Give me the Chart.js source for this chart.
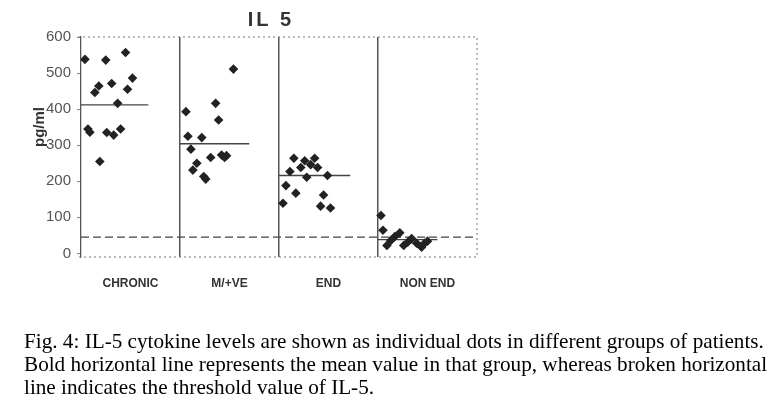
<!DOCTYPE html>
<html>
<head>
<meta charset="utf-8">
<script src="https://cdn.jsdelivr.net/npm/chart.js@4/dist/chart.umd.min.js"></script>
<style>
  body { margin: 0; background: #fff; }
  #wrap { position: relative; width: 777px; height: 412px; }
  #chart { position: absolute; left: 0; top: 0; }
  #caption {
    position: absolute; left: 24px; top: 330px; width: 753px;
    font-family: "Liberation Serif", "Times New Roman", serif;
    font-size: 21.2px; line-height: 23px; color: #000;
  }
</style>
</head>
<body>
<div id="wrap">
  <canvas id="chart" width="777" height="412"></canvas>
  <div id="caption">Fig. 4: IL-5 cytokine levels are shown as individual dots in different groups of patients. Bold horizontal line represents the mean value in that group, whereas broken horizontal line indicates the threshold value of IL-5.</div>
</div>
<script>
// groups and values
const groups = ['CHRONIC', 'M/+VE', 'END', 'NON END'];
const yTicks = [0, 100, 200, 300, 400, 500, 600];

const chronicVals = [538, 536, 557, 486, 455, 471, 464, 446, 416, 345, 336, 335, 328, 345, 255];
const chronicPos  = [0.04, 0.25, 0.45, 0.52, 0.47, 0.31, 0.18, 0.14, 0.37, 0.07, 0.09, 0.26, 0.33, 0.40, 0.19];

const mveVals = [511, 416, 393, 370, 325, 321, 289, 266, 273, 266, 271, 250, 231, 213, 206];
const mvePos  = [0.54, 0.36, 0.06, 0.39, 0.08, 0.22, 0.11, 0.31, 0.42, 0.45, 0.47, 0.17, 0.13, 0.24, 0.26];

const endVals = [264, 257, 264, 238, 246, 238, 227, 211, 216, 188, 167, 162, 139, 131, 126];
const endPos  = [0.15, 0.26, 0.36, 0.22, 0.32, 0.39, 0.11, 0.28, 0.49, 0.07, 0.17, 0.45, 0.04, 0.42, 0.52];

const nonEndVals = [105, 64, 22, 36, 47, 57, 22, 31, 41, 28, 17, 28, 34];
const nonEndPos  = [0.03, 0.05, 0.09, 0.13, 0.17, 0.22, 0.26, 0.30, 0.34, 0.39, 0.44, 0.47, 0.50];

const means = [412, 304, 216, 38];
const meanSpan = [0.68, 0.70, 0.72, 0.6];
const threshold = 45;

const allVals = [chronicVals, mveVals, endVals, nonEndVals];
const allPos = [chronicPos, mvePos, endPos, nonEndPos];

let dots = [];
allVals.forEach((vals, g) => {
    vals.forEach((v, i) => dots.push({x: g + allPos[g][i], y: v}));
});

let datasets = [{
    type: 'scatter',
    data: dots,
    pointStyle: 'rectRot',
    pointRadius: 4.8,
    backgroundColor: '#222',
    borderColor: '#222',
    borderWidth: 0
}];

means.forEach((m, g) => {
    datasets.push({
        type: 'line',
        data: [{x: g, y: m}, {x: g + meanSpan[g], y: m}],
        borderColor: '#444',
        borderWidth: 1.3,
        pointRadius: 0
    });
});

datasets.push({
    type: 'line',
    data: [{x: 0, y: threshold}, {x: 4, y: threshold}],
    borderColor: '#444',
    borderWidth: 1.3,
    borderDash: [8, 4],
    pointRadius: 0
});

// dotted frame, title and y label
const extras = {
    id: 'extras',
    afterDraw(chart) {
        const ctx = chart.ctx;
        const a = chart.chartArea;
        ctx.save();
        ctx.strokeStyle = '#777';
        ctx.lineWidth = 1;
        ctx.setLineDash([2, 3]);
        ctx.beginPath();
        ctx.moveTo(a.left - 3, a.top);
        ctx.lineTo(a.right, a.top);
        ctx.lineTo(a.right, a.bottom);
        ctx.lineTo(a.left - 3, a.bottom);
        ctx.stroke();
        ctx.setLineDash([]);

        ctx.fillStyle = '#333';
        ctx.font = 'bold 20px "Liberation Sans", Arial, sans-serif';
        ctx.letterSpacing = '3px';
        ctx.textAlign = 'center';
        ctx.textBaseline = 'middle';
        ctx.fillText('IL 5', 271, 20);

        ctx.letterSpacing = '0px';
        ctx.font = 'bold 15px "Liberation Sans", Arial, sans-serif';
        ctx.translate(40, 127);
        ctx.rotate(-Math.PI / 2);
        ctx.fillText('pg/ml', 0, 0);
        ctx.restore();
    }
};

new Chart(document.getElementById('chart'), {
    data: { datasets: datasets },
    options: {
        responsive: false,
        animation: false,
        layout: { padding: { left: 0, top: 37, right: 300, bottom: 0 } },
        plugins: { legend: { display: false }, tooltip: { enabled: false } },
        scales: {
            x: {
                type: 'linear',
                min: 0,
                max: 4,
                afterBuildTicks: (scale) => {
                    scale.ticks = [0, 0.5, 1, 1.5, 2, 2.5, 3, 3.5, 4].map(v => ({value: v}));
                },
                afterFit: (scale) => { scale.height = 155; },
                ticks: {
                    padding: 19,
                    autoSkip: false,
                    minRotation: 0,
                    maxRotation: 0,
                    color: '#333',
                    font: { family: '"Liberation Sans", Arial, sans-serif', size: 12, weight: 'bold' },
                    callback: (v) => (v % 1 === 0.5 ? groups[Math.floor(v)] : '')
                },
                grid: {
                    drawTicks: false,
                    lineWidth: 1.5,
                    color: (c) => {
                        const v = c.tick ? c.tick.value : 0;
                        return (v === 1 || v === 2 || v === 3) ? '#555' : 'rgba(0,0,0,0)';
                    }
                },
                border: { display: false }
            },
            y: {
                min: -10,
                max: 600,
                afterBuildTicks: (scale) => {
                    scale.ticks = yTicks.map(v => ({value: v}));
                },
                afterFit: (scale) => { scale.width = 81; },
                ticks: {
                    padding: 6,
                    color: '#555',
                    font: { family: '"Liberation Sans", Arial, sans-serif', size: 15 }
                },
                grid: { drawOnChartArea: false, drawTicks: true, tickLength: 4, color: '#888' },
                border: { display: true, color: '#555', width: 1.3 }
            }
        }
    },
    plugins: [extras]
});
</script>
</body>
</html>
